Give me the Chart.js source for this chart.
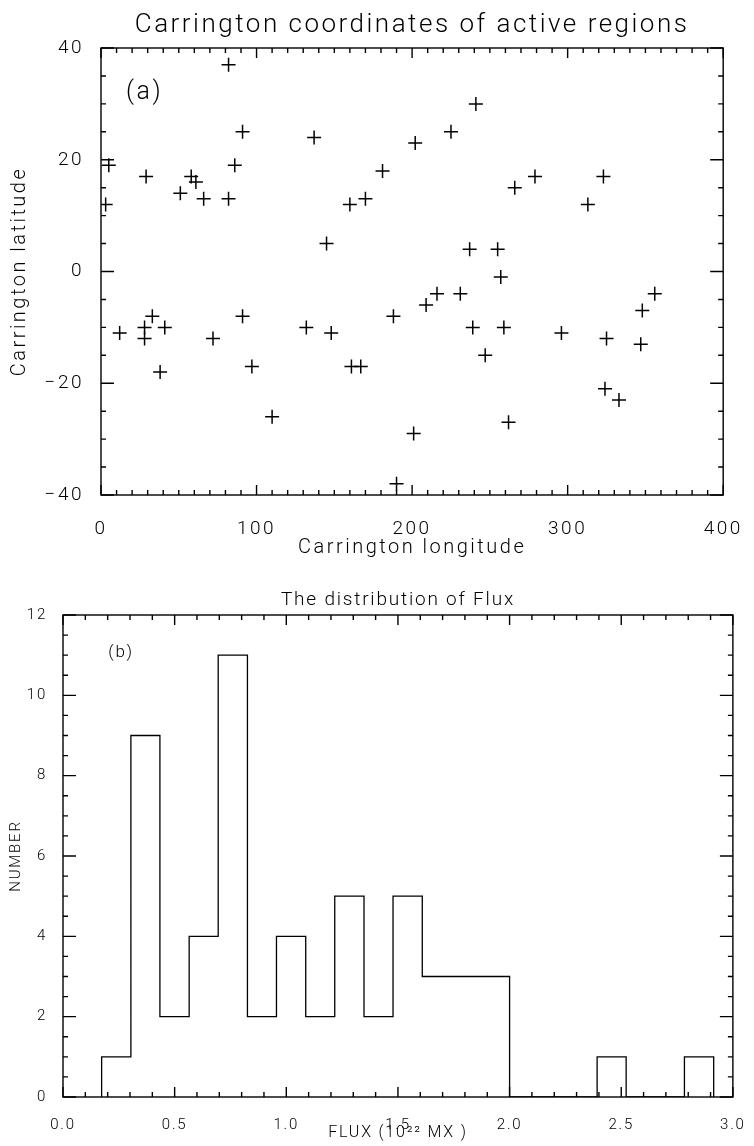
<!DOCTYPE html>
<html>
<head>
<meta charset="utf-8">
<title>Carrington coordinates and flux distribution</title>
<script src="https://cdn.jsdelivr.net/npm/chart.js@4.4.1/dist/chart.umd.min.js"></script>
<style>
  body { margin: 0; background: #fff; }
  canvas { position: absolute; left: 0; }
  #regions { top: 0; }
  #flux { top: 575px; }
</style>
</head>
<body>
<canvas id="regions" width="754" height="575"></canvas>
<canvas id="flux" width="754" height="571"></canvas>
<script>
// panel (a): Carrington coordinates of the active regions (degrees)
const longitudes = [82, 91, 137, 202, 225, 241,
  5, 3, 29, 58, 61, 51, 66, 82, 86, 181,
  160, 170, 145, 266, 279, 313, 323, 237, 255, 257,
  216, 231, 356,
  12, 28, 28, 33, 41, 38, 72, 91, 97, 110,
  132, 148, 161, 167, 188, 201, 209, 239, 247, 259,
  262, 296, 325, 324, 333, 348, 347, 190];
const latitudes = [37, 25, 24, 23, 25, 30,
  19, 12, 17, 17, 16, 14, 13, 13, 19, 18,
  12, 13, 5, 15, 17, 12, 17, 4, 4, -1,
  -4, -4, -4,
  -11, -10, -12, -8, -10, -18, -12, -8, -17, -26,
  -10, -11, -17, -17, -8, -29, -6, -10, -15, -10,
  -27, -11, -12, -21, -23, -7, -13, -38];

// panel (b): histogram of flux (10^22 Mx), bin edges and counts
const fluxBinEdges = [0.173, 0.304, 0.434, 0.565, 0.695, 0.826, 0.956, 1.087,
  1.217, 1.348, 1.478, 1.609, 1.739, 1.870, 2.000, 2.131, 2.261, 2.392,
  2.522, 2.653, 2.783, 2.914];
const fluxCounts = [1, 9, 2, 4, 11, 2, 4, 2, 5, 2, 5, 3, 3, 3, 0, 0, 0, 1, 0, 0, 1];

const FONT = "Roboto, 'DejaVu Sans', sans-serif";
Chart.defaults.font.family = FONT;
Chart.defaults.font.weight = 300;
Chart.defaults.color = '#000';
Chart.defaults.animation = false;

// IDL style box: inward major/minor ticks on all four sides + panel label
function idlFrame(cfg) {
  return {
    id: 'idlFrame',
    beforeDraw(chart) {
      chart.ctx.letterSpacing = cfg.spacing;
    },
    afterDraw(chart) {
      const ctx = chart.ctx;
      const a = chart.chartArea;
      const x = chart.scales.x, y = chart.scales.y;
      ctx.save();
      ctx.setLineDash([]);
      ctx.strokeStyle = '#000';
      ctx.lineWidth = 1.4;
      const nx = Math.round((cfg.xMax - cfg.xMin) / cfg.xMinor);
      for (let i = 0; i <= nx; i++) {
        const v = cfg.xMin + i * cfg.xMinor;
        const len = i % cfg.xEvery === 0 ? cfg.xMajorLen : cfg.minorLen;
        const px = x.getPixelForValue(v);
        ctx.beginPath();
        ctx.moveTo(px, a.bottom); ctx.lineTo(px, a.bottom - len);
        ctx.moveTo(px, a.top); ctx.lineTo(px, a.top + len);
        ctx.stroke();
      }
      const ny = Math.round((cfg.yMax - cfg.yMin) / cfg.yMinor);
      for (let i = 0; i <= ny; i++) {
        const v = cfg.yMin + i * cfg.yMinor;
        const len = i % cfg.yEvery === 0 ? cfg.yMajorLen : cfg.minorLen;
        const py = y.getPixelForValue(v);
        ctx.beginPath();
        ctx.moveTo(a.left, py); ctx.lineTo(a.left + len, py);
        ctx.moveTo(a.right, py); ctx.lineTo(a.right - len, py);
        ctx.stroke();
      }
      ctx.lineWidth = 1.4;
      ctx.strokeRect(a.left, a.top, a.right - a.left, a.bottom - a.top);

      ctx.fillStyle = '#000';
      ctx.font = '300 ' + cfg.labelSize + 'px ' + FONT;
      ctx.textAlign = 'center';
      ctx.textBaseline = 'middle';
      ctx.fillText(cfg.label, x.getPixelForValue(cfg.labelAt[0]), y.getPixelForValue(cfg.labelAt[1]));
      ctx.restore();
    }
  };
}

// ---- panel (a)
new Chart(document.getElementById('regions'), {
  type: 'scatter',
  plugins: [idlFrame({
    spacing: '2.5px',
    xMin: 0, xMax: 400, xMinor: 10, xEvery: 10,
    yMin: -40, yMax: 40, yMinor: 5, yEvery: 4,
    xMajorLen: 10, yMajorLen: 13, minorLen: 5,
    label: '(a)', labelAt: [28, 32], labelSize: 25
  })],
  data: {
    datasets: [{
      data: longitudes.map((lon, i) => ({x: lon, y: latitudes[i]})),
      pointStyle: 'cross',
      pointRadius: 7,
      borderColor: '#000',
      borderWidth: 1.5
    }]
  },
  options: {
    responsive: false,
    events: [],
    layout: {padding: {left: 0, right: 21, top: 0, bottom: 0}},
    plugins: {
      legend: {display: false},
      tooltip: {enabled: false},
      title: {
        display: true,
        text: 'Carrington coordinates of active regions',
        fullSize: false,
        font: {size: 26, weight: 300},
        padding: {top: 9.4, bottom: 7.4}
      }
    },
    scales: {
      x: {
        type: 'linear', min: 0, max: 400,
        grid: {display: false}, border: {display: false},
        ticks: {stepSize: 100, padding: 15, font: {size: 19}},
        title: {display: true, text: 'Carrington longitude', font: {size: 20}, padding: {top: 0, bottom: 15}},
        afterFit: s => { s.height = 80; }
      },
      y: {
        min: -40, max: 40,
        grid: {display: false}, border: {display: false},
        ticks: {stepSize: 20, padding: 9, font: {size: 19},
          callback: v => String(v).replace('-', '\u2212')},
        title: {display: true, text: 'Carrington latitude', font: {size: 20}, padding: {top: 8, bottom: 0}},
        afterFit: s => { s.width = 101; }
      }
    }
  }
});

// ---- panel (b): step outline histogram
const fluxSteps = [{x: fluxBinEdges[0], y: 0}];
fluxCounts.forEach((n, i) => fluxSteps.push({x: fluxBinEdges[i], y: n}));
fluxSteps.push({x: fluxBinEdges[fluxBinEdges.length - 1], y: 0});

new Chart(document.getElementById('flux'), {
  type: 'scatter',
  plugins: [idlFrame({
    spacing: '1.8px',
    xMin: 0, xMax: 3, xMinor: 0.1, xEvery: 5,
    yMin: 0, yMax: 12, yMinor: 0.5, yEvery: 4,
    xMajorLen: 10, yMajorLen: 13, minorLen: 5,
    label: '(b)', labelAt: [0.26, 11.05], labelSize: 17
  })],
  data: {
    datasets: [{
      data: fluxSteps,
      showLine: true,
      stepped: 'before',
      borderColor: '#000',
      borderWidth: 1.3,
      pointRadius: 0,
      fill: false
    }]
  },
  options: {
    responsive: false,
    events: [],
    layout: {padding: {left: 0, right: 16, top: 0, bottom: 0}},
    plugins: {
      legend: {display: false},
      tooltip: {enabled: false},
      title: {
        display: true,
        text: 'The distribution of Flux',
        fullSize: false,
        font: {size: 19, weight: 300},
        padding: {top: 13.6, bottom: 3.6}
      }
    },
    scales: {
      x: {
        type: 'linear', min: 0, max: 3,
        grid: {display: false}, border: {display: false},
        ticks: {stepSize: 0.5, padding: 11, font: {size: 15}, callback: v => v.toFixed(1)},
        title: {display: true, text: 'FLUX (10\u00B2\u00B2 MX )', font: {size: 16}, padding: {top: 0, bottom: 3.4}},
        afterFit: s => { s.height = 49; }
      },
      y: {
        min: 0, max: 12,
        grid: {display: false}, border: {display: false},
        ticks: {stepSize: 2, padding: 8, font: {size: 15}},
        title: {display: true, text: 'NUMBER', font: {size: 15}, padding: {top: 7, bottom: 0}},
        afterFit: s => { s.width = 63; }
      }
    }
  }
});
</script>
</body>
</html>
